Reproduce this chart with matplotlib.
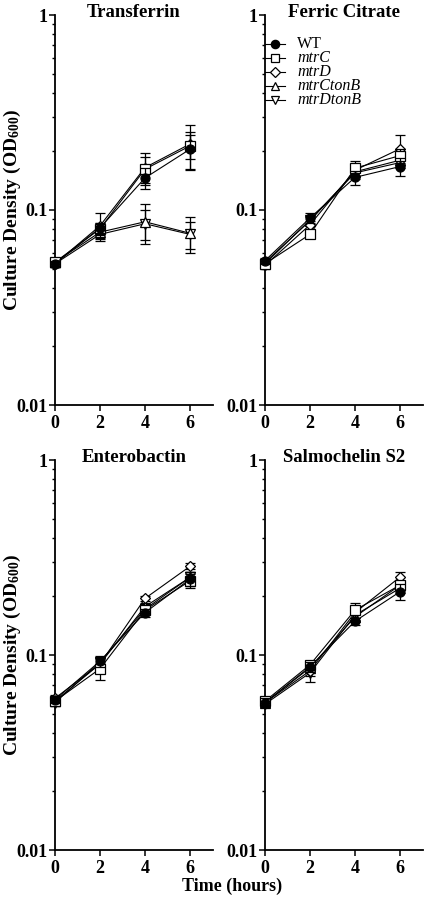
import matplotlib
matplotlib.use("Agg")
import matplotlib.pyplot as plt
from matplotlib.ticker import LogLocator, FixedLocator, NullFormatter

plt.rcParams['font.family'] = ['Liberation Serif', 'DejaVu Serif']
plt.rcParams['mathtext.fontset'] = 'custom'
plt.rcParams['mathtext.rm'] = 'Liberation Serif'
plt.rcParams['mathtext.it'] = 'Liberation Serif:italic'
plt.rcParams['mathtext.bf'] = 'Liberation Serif:bold'

# ---------------- data ----------------
time_h = [0, 2, 4, 6]
strains = ["WT", "mtrC", "mtrD", "mtrCtonB", "mtrDtonB"]
legend_italic = [False, True, True, True, True]
panel_titles = ["Transferrin", "Ferric Citrate", "Enterobactin", "Salmochelin S2"]

# Transferrin
tf_WT = [0.053, 0.081, 0.146, 0.205]
tf_WT_err = [0.002, 0.005, 0.018, 0.045]
tf_mtrC = [0.054, 0.080, 0.162, 0.213]
tf_mtrC_err = [0.002, 0.006, 0.025, 0.030]
tf_mtrD = [0.053, 0.083, 0.165, 0.218]
tf_mtrD_err = [0.002, 0.014, 0.030, 0.055]
tf_mtrCtonB = [0.054, 0.077, 0.087, 0.076]
tf_mtrCtonB_err = [0.002, 0.005, 0.020, 0.016]
tf_mtrDtonB = [0.053, 0.075, 0.085, 0.075]
tf_mtrDtonB_err = [0.002, 0.004, 0.015, 0.012]

# Ferric citrate
fc_WT = [0.055, 0.091, 0.147, 0.167]
fc_WT_err = [0.002, 0.005, 0.012, 0.018]
fc_mtrC = [0.053, 0.075, 0.164, 0.190]
fc_mtrC_err = [0.002, 0.003, 0.015, 0.015]
fc_mtrD = [0.052, 0.084, 0.160, 0.206]
fc_mtrD_err = [0.002, 0.004, 0.010, 0.036]
fc_mtrCtonB = [0.054, 0.088, 0.157, 0.180]
fc_mtrCtonB_err = [0.002, 0.004, 0.010, 0.012]
fc_mtrDtonB = [0.053, 0.089, 0.155, 0.175]
fc_mtrDtonB_err = [0.002, 0.004, 0.010, 0.010]

# Enterobactin
en_WT = [0.059, 0.093, 0.165, 0.245]
en_WT_err = [0.002, 0.006, 0.008, 0.020]
en_mtrC = [0.058, 0.085, 0.170, 0.240]
en_mtrC_err = [0.002, 0.011, 0.008, 0.020]
en_mtrD = [0.060, 0.090, 0.195, 0.285]
en_mtrD_err = [0.002, 0.005, 0.006, 0.010]
en_mtrCtonB = [0.058, 0.090, 0.177, 0.250]
en_mtrCtonB_err = [0.002, 0.006, 0.008, 0.015]
en_mtrDtonB = [0.057, 0.092, 0.172, 0.250]
en_mtrDtonB_err = [0.002, 0.006, 0.008, 0.015]

# Salmochelin S2
sa_WT = [0.057, 0.087, 0.149, 0.211]
sa_WT_err = [0.003, 0.005, 0.006, 0.020]
sa_mtrC = [0.058, 0.089, 0.170, 0.228]
sa_mtrC_err = [0.002, 0.004, 0.015, 0.012]
sa_mtrD = [0.057, 0.083, 0.165, 0.251]
sa_mtrD_err = [0.002, 0.005, 0.010, 0.016]
sa_mtrCtonB = [0.057, 0.086, 0.157, 0.228]
sa_mtrCtonB_err = [0.002, 0.005, 0.008, 0.012]
sa_mtrDtonB = [0.056, 0.081, 0.160, 0.220]
sa_mtrDtonB_err = [0.002, 0.008, 0.008, 0.012]

panels = [
    ([tf_WT, tf_mtrC, tf_mtrD, tf_mtrCtonB, tf_mtrDtonB],
     [tf_WT_err, tf_mtrC_err, tf_mtrD_err, tf_mtrCtonB_err, tf_mtrDtonB_err]),
    ([fc_WT, fc_mtrC, fc_mtrD, fc_mtrCtonB, fc_mtrDtonB],
     [fc_WT_err, fc_mtrC_err, fc_mtrD_err, fc_mtrCtonB_err, fc_mtrDtonB_err]),
    ([en_WT, en_mtrC, en_mtrD, en_mtrCtonB, en_mtrDtonB],
     [en_WT_err, en_mtrC_err, en_mtrD_err, en_mtrCtonB_err, en_mtrDtonB_err]),
    ([sa_WT, sa_mtrC, sa_mtrD, sa_mtrCtonB, sa_mtrDtonB],
     [sa_WT_err, sa_mtrC_err, sa_mtrD_err, sa_mtrCtonB_err, sa_mtrDtonB_err]),
]

# ---------------- style ----------------
markers = ['o', 's', 'D', '^', 'v']
msizes = [6.5, 6.5, 5.5, 6.5, 6.5]
faces = ['black', 'white', 'white', 'white', 'white']

W, H = 425, 897
fig = plt.figure(figsize=(W / 100, H / 100), dpi=100)

ax_px = [(55, 15), (265, 15), (55, 460), (265, 460)]  # (left, top) in pixels
aw, ah = 157.5, 390

tick_fs = 13
title_fs = 13.5
label_fs = 14

for i, ((means, errs), (lx, ty)) in enumerate(zip(panels, ax_px)):
    ax = fig.add_axes([lx / W, 1 - (ty + ah) / H, aw / W, ah / H])
    ax.set_yscale('log')
    ax.set_ylim(0.01, 1)
    ax.set_xlim(0, 7)
    for j in reversed(range(len(strains))):
        ax.errorbar(time_h, means[j], yerr=errs[j], color='black', lw=0.8,
                    marker=markers[j], ms=msizes[j], mfc=faces[j], mec='black',
                    mew=0.9, elinewidth=0.9, capsize=3.3, capthick=0.9,
                    clip_on=False, zorder=3 + (5 - j))
    ax.spines['top'].set_visible(False)
    ax.spines['right'].set_visible(False)
    ax.spines['left'].set_linewidth(1.3)
    ax.spines['bottom'].set_linewidth(1.3)
    ax.xaxis.set_major_locator(FixedLocator([0, 2, 4, 6]))
    ax.yaxis.set_major_locator(FixedLocator([0.01, 0.1, 1]))
    ax.set_yticklabels(['0.01', '0.1', '1'])
    ax.yaxis.set_minor_locator(LogLocator(base=10, subs=range(2, 10)))
    ax.yaxis.set_minor_formatter(NullFormatter())
    ax.tick_params(axis='both', which='major', direction='out', length=4.5,
                   width=1.1, labelsize=tick_fs)
    ax.tick_params(axis='y', which='minor', direction='out', length=2.5, width=1.0)
    ax.tick_params(axis='y', which='major', pad=1)
    ax.tick_params(axis='x', which='major', pad=3)
    for lab in ax.get_xticklabels() + ax.get_yticklabels():
        lab.set_fontweight('bold')
    ax.text(0.5, 0.995, panel_titles[i], transform=ax.transAxes, ha='center',
            va='baseline', fontsize=title_fs, fontweight='bold')
    if i in (0, 2):
        ax.set_ylabel(r'Culture Density (OD$_{\mathbf{600}}$)', fontsize=label_fs,
                      fontweight='bold')
        ax.yaxis.set_label_coords(-0.205, 0.5)
    if i == 1:
        ys = [0.926, 0.889, 0.853, 0.817, 0.781]
        for j in range(len(strains)):
            ax.plot([0.0, 0.0635, 0.127], [ys[j]] * 3, transform=ax.transAxes,
                    color='black', lw=0.8, marker=markers[j], ms=msizes[j] - 0.5,
                    mfc=faces[j], mec='black', mew=0.9, markevery=[1],
                    clip_on=False)
            ax.text(0.203, ys[j], strains[j], transform=ax.transAxes,
                    ha='left', va='center', fontsize=11.5,
                    fontstyle='italic' if legend_italic[j] else 'normal')

fig.text(232 / W, 1 - 886 / H, 'Time (hours)', ha='center', va='center',
         fontsize=13, fontweight='bold')

fig.savefig('out.png', dpi=100)
